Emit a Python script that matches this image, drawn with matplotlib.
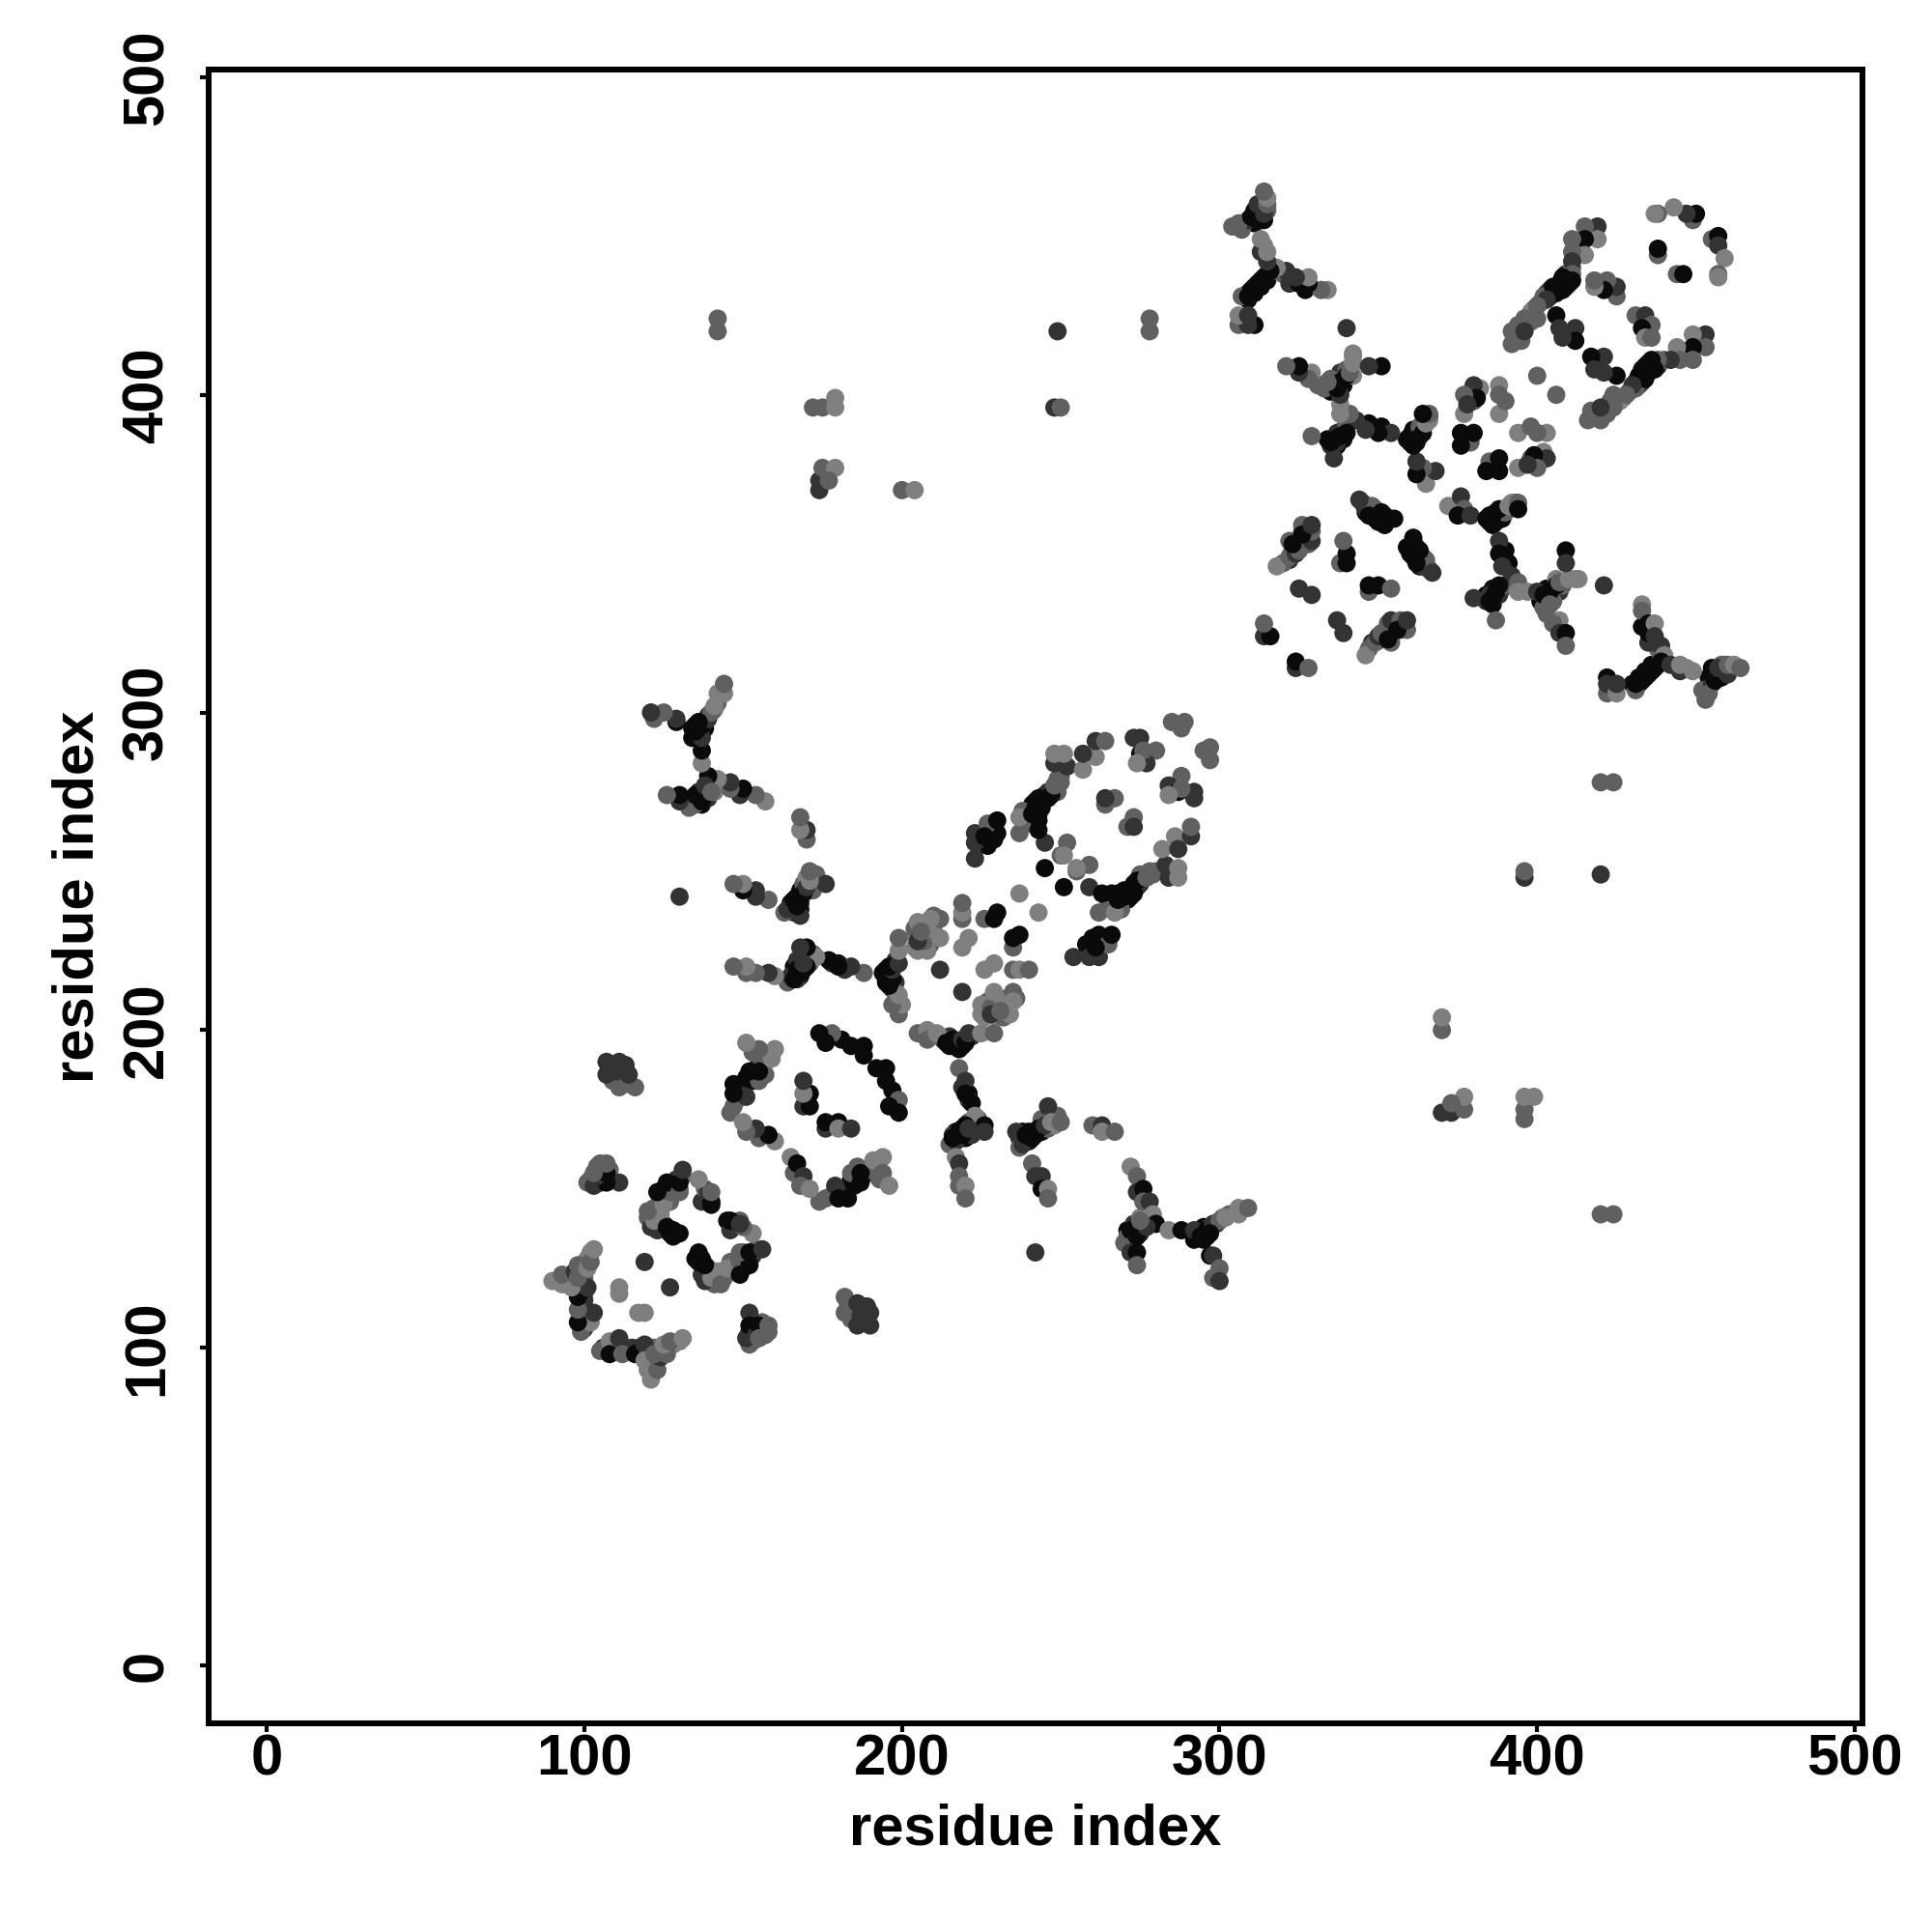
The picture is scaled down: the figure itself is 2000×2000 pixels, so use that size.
# Mapa de contactos entre residuos (gris = probabilidad del contacto).
import matplotlib
matplotlib.use('Agg')
import matplotlib.pyplot as plt

plt.rcParams['font.family'] = ['Liberation Sans', 'DejaVu Sans']
plt.rcParams['font.weight'] = 'bold'

# Contactos (i, j, nivel) con i > j; el mapa es simetrico.
# nivel: 0 claro, 1 medio, 2 oscuro, 3 negro
bloque_bajo = [
    (105, 99, 1), (108, 102, 0), (111, 103, 2), (108, 98, 3), (112, 98, 1), (116, 98, 3),
    (119, 101, 2), (119, 96, 0), (121, 90, 0), (123, 93, 1), (124, 97, 2), (122, 98, 1),
    (126, 98, 1), (125, 101, 0), (127, 102, 1), (131, 103, 0), (127, 119, 2), (119, 111, 0),
    (117, 111, 0),
]
anillo_1 = [
    (138, 121, 2), (140, 122, 0), (136, 130, 3), (136, 127, 3), (138, 126, 3), (143, 120, 1),
    (145, 125, 0), (149, 127, 1), (149, 123, 3), (152, 126, 3), (149, 130, 1), (152, 130, 3),
    (156, 131, 2), (145, 140, 3), (149, 140, 1), (153, 136, 0), (137, 146, 2), (140, 146, 3),
    (138, 150, 1), (139, 149, 2),
]
lado_1 = [
    (152, 101, 1), (151, 103, 2), (152, 111, 2), (152, 107, 3), (154, 104, 2), (155, 107, 3),
    (155, 103, 1), (158, 107, 1), (158, 105, 1), (182, 116, 1), (182, 111, 1), (186, 114, 2),
    (189, 113, 2), (186, 107, 2), (187, 110, 2), (190, 107, 2),
]
hebra_1 = [
    (165, 160, 0), (166, 155, 1), (167, 158, 3), (169, 154, 2), (168, 151, 1), (171, 150, 0),
    (176, 147, 1), (179, 151, 2), (180, 147, 3), (183, 147, 3), (184, 155, 1), (187, 155, 3),
    (187, 152, 3), (191, 159, 0), (194, 160, 0), (194, 155, 1), (196, 151, 0), (176, 169, 2),
    (176, 171, 3), (180, 171, 3), (180, 169, 0), (184, 169, 2), (192, 188, 3), (195, 188, 3),
    (195, 184, 3), (197, 181, 3), (199, 178, 1), (196, 176, 3), (199, 174, 3),
]
banda_198 = [
    (205, 199, 1), (208, 200, 0), (208, 197, 1), (211, 199, 0), (214, 196, 3), (216, 197, 3),
    (217, 195, 3), (219, 197, 2), (220, 196, 3), (221, 199, 2), (225, 199, 0), (229, 199, 1),
]
grupo_claro = [
    (225, 208, 0), (225, 205, 0), (228, 207, 1), (228, 205, 2), (229, 212, 0), (232, 209, 0),
    (234, 205, 0), (235, 212, 1), (235, 209, 0), (231, 206, 1), (219, 212, 2), (226, 219, 0),
    (229, 221, 0), (235, 219, 1), (237, 219, 0), (240, 219, 1), (235, 226, 1), (235, 229, 3),
    (237, 230, 3),
]
hebra_2 = [
    (218, 188, 1), (220, 184, 2), (220, 180, 3), (222, 177, 3), (223, 173, 0), (226, 170, 3),
    (226, 168, 2), (215, 164, 1), (217, 165, 2), (220, 170, 3), (218, 168, 3), (216, 166, 3),
    (219, 167, 3), (221, 169, 2), (217, 160, 0), (218, 158, 2), (218, 154, 1), (218, 151, 1),
    (220, 151, 0), (220, 147, 1),
]
hebra_3 = [
    (236, 168, 2), (238, 164, 2), (239, 167, 3), (241, 166, 3), (243, 169, 3), (245, 170, 2),
    (246, 176, 2), (247, 171, 0), (250, 171, 1), (241, 158, 1), (242, 154, 2), (244, 154, 2),
    (244, 150, 3), (246, 150, 0), (246, 147, 1), (242, 130, 2), (260, 170, 1), (263, 170, 2),
    (263, 168, 0), (267, 168, 1),
]
hebra_4 = [
    (272, 157, 0), (274, 154, 1), (274, 149, 2), (276, 150, 3), (276, 146, 1), (278, 146, 2),
    (279, 142, 0), (280, 139, 3), (284, 137, 0), (288, 137, 3), (292, 137, 2), (271, 135, 1),
    (274, 135, 3), (272, 137, 3), (274, 138, 3), (277, 138, 2), (275, 140, 1), (272, 130, 2),
    (274, 130, 3), (274, 126, 1), (294, 135, 3), (296, 137, 3), (298, 139, 2), (300, 140, 1),
    (297, 136, 3), (302, 141, 0), (306, 142, 0), (306, 144, 0), (309, 144, 1), (297, 129, 3),
    (298, 129, 2), (300, 125, 1), (298, 122, 1), (300, 121, 2),
]
hebra_5 = [
    (254, 223, 2), (258, 227, 3), (259, 223, 2), (262, 223, 2), (262, 230, 3), (265, 227, 1),
    (266, 230, 3), (261, 226, 3), (262, 237, 1), (259, 245, 2), (263, 243, 3), (266, 243, 3),
    (266, 238, 1), (267, 237, 0), (268, 241, 3), (270, 242, 3), (272, 244, 3), (274, 247, 3),
    (273, 243, 3), (277, 248, 1), (279, 249, 1), (283, 252, 2), (284, 248, 2), (287, 251, 0),
    (287, 248, 0), (282, 257, 0), (286, 261, 0), (287, 257, 2), (291, 261, 2), (291, 264, 1),
    (251, 245, 3), (259, 252, 1), (255, 250, 1), (255, 251, 0), (243, 237, 0),
]
punta_300 = [
    (295, 288, 1), (297, 289, 1), (297, 285, 1), (288, 280, 1), (284, 277, 2), (292, 275, 2),
    (292, 273, 2), (287, 275, 3), (288, 276, 1), (284, 274, 0), (273, 267, 1), (271, 264, 1),
    (273, 264, 2),
]
centro_2 = [
    (365, 348, 1), (367, 344, 2), (361, 355, 3), (363, 351, 3), (362, 347, 3), (360, 350, 3),
    (347, 338, 1), (347, 340, 3), (350, 340, 3), (354, 339, 1), (346, 318, 0), (349, 322, 1),
    (350, 324, 2), (354, 322, 1), (351, 325, 1), (354, 329, 2), (357, 329, 1), (359, 326, 1),
    (356, 326, 3), (353, 323, 3), (359, 329, 2), (337, 329, 2), (339, 325, 2), (324, 314, 2),
    (324, 316, 3), (328, 314, 1),
]
cruce_2 = [
    (372, 365, 0), (376, 368, 2), (377, 364, 1), (375, 362, 3), (379, 362, 2), (384, 361, 3),
    (386, 362, 3), (388, 364, 3), (386, 359, 3), (391, 365, 0), (392, 366, 0), (394, 366, 1),
    (394, 364, 3), (388, 354, 2), (388, 350, 3), (391, 347, 3), (389, 346, 2), (392, 343, 2),
    (380, 336, 2), (385, 337, 2), (385, 335, 3), (387, 338, 3), (388, 340, 3), (386, 336, 3),
    (387, 329, 1), (394, 341, 1), (394, 338, 0), (397, 338, 0), (400, 338, 2), (402, 337, 3),
    (404, 338, 3), (406, 340, 3), (407, 341, 1), (410, 342, 0), (413, 342, 0), (404, 334, 1),
    (403, 331, 1), (407, 329, 0), (405, 328, 1), (409, 351, 3), (409, 347, 2), (407, 325, 2),
    (409, 325, 3), (409, 321, 1), (421, 340, 2),
]
hebra_6 = [
    (433, 334, 0), (433, 332, 1), (435, 328, 3), (437, 328, 0), (437, 324, 2), (439, 321, 2),
    (440, 318, 0), (431, 307, 1), (437, 314, 3), (435, 312, 3), (433, 310, 3), (431, 309, 3),
    (439, 316, 3), (442, 315, 2), (445, 313, 2), (445, 315, 0), (449, 313, 0), (422, 306, 1),
    (422, 311, 3), (422, 309, 2), (425, 306, 0), (425, 309, 2), (454, 306, 1), (453, 304, 1),
    (456, 310, 3), (455, 312, 3), (458, 311, 3), (457, 314, 2), (460, 312, 2), (460, 315, 1),
    (462, 315, 0), (464, 314, 1),
]
punta_460 = [
    (444, 438, 1), (446, 438, 3), (455, 449, 1), (457, 450, 3), (457, 447, 2), (459, 443, 0),
    (457, 438, 1), (457, 437, 0), (453, 419, 2), (449, 419, 0), (453, 415, 1), (449, 415, 3),
    (444, 415, 0), (449, 411, 1), (445, 411, 1), (442, 411, 2), (438, 411, 1), (436, 411, 3),
    (437, 408, 3), (434, 409, 3), (434, 405, 3), (432, 406, 3), (430, 403, 2), (428, 400, 1),
    (424, 396, 1), (424, 400, 1), (425, 406, 3), (421, 412, 2), (417, 412, 3), (418, 408, 2),
    (421, 407, 2), (417, 395, 1), (416, 392, 1), (420, 392, 1), (420, 396, 2),
    (431, 425, 1), (434, 425, 2), (436, 422, 1), (433, 421, 3), (434, 418, 0), (436, 418, 1),
]
centro_400 = [
    (406, 400, 1), (403, 388, 0), (394, 388, 0), (398, 390, 1), (400, 388, 1), (398, 380, 1),
    (402, 382, 0), (403, 380, 2), (399, 381, 3), (400, 377, 1), (394, 377, 0), (397, 378, 2),
    (385, 379, 1), (388, 380, 3), (384, 376, 3), (388, 376, 3),
]
lejanos = [
    (424, 142, 1), (420, 142, 1), (420, 249, 2), (424, 278, 1), (420, 278, 1), (396, 248, 2),
    (396, 250, 1), (396, 172, 1), (396, 175, 1), (399, 179, 0), (396, 179, 0), (370, 174, 2),
    (373, 174, 2), (377, 175, 1), (377, 179, 0), (373, 177, 1), (370, 200, 1), (370, 204, 0),
]

# Contactos de las zonas densas, quedan debajo de los anteriores.
densos_dominio_1 = [
    (113, 100, 1), (106, 100, 2), (114, 99, 1), (117, 100, 1), (120, 98, 1), (122, 95, 0),
    (122, 100, 1), (124, 99, 0), (126, 100, 0), (128, 101, 0), (130, 102, 0), (120, 93, 0),
    (121, 96, 1), (123, 96, 0), (110, 99, 3), (115, 100, 2), (118, 99, 3),
    (150, 125, 3), (151, 128, 3), (147, 124, 2), (144, 122, 1), (141, 120, 1), (150, 130, 1),
    (153, 129, 2), (154, 131, 1), (135, 128, 3), (137, 128, 3), (137, 123, 2), (139, 125, 1),
    (142, 124, 0), (146, 127, 1), (153, 108, 2), (154, 106, 3), (152, 105, 3), (156, 106, 2),
    (157, 105, 1), (156, 108, 1), (153, 102, 1), (157, 104, 1), (184, 113, 2), (188, 108, 3),
    (188, 112, 2), (190, 111, 2), (184, 109, 1), (183, 114, 1), (181, 148, 3), (182, 150, 2),
    (184, 153, 3), (185, 151, 3), (186, 153, 3), (178, 148, 1), (174, 146, 1), (190, 155, 2),
    (189, 156, 1), (186, 157, 1), (192, 157, 1), (193, 153, 1), (213, 197, 3), (215, 195, 3),
    (216, 195, 3), (218, 196, 3), (218, 194, 3), (219, 195, 3), (215, 198, 2), (212, 198, 1),
    (222, 198, 2), (227, 209, 1), (229, 206, 2), (230, 210, 0), (233, 207, 0), (233, 210, 1),
    (236, 210, 1), (226, 204, 0), (230, 204, 0), (232, 204, 1), (217, 168, 3), (218, 166, 3),
    (219, 169, 3), (220, 166, 3), (221, 168, 3), (222, 167, 2), (216, 167, 2), (223, 170, 2),
    (221, 171, 1), (224, 172, 1), (221, 180, 3), (221, 178, 2), (219, 182, 2), (237, 166, 2),
    (240, 168, 3), (240, 165, 3), (242, 167, 3), (238, 168, 3), (244, 168, 3), (244, 172, 1),
    (246, 169, 1), (249, 172, 1), (248, 170, 0), (249, 173, 1), (237, 163, 1), (270, 133, 1),
    (273, 136, 3), (271, 137, 3), (275, 136, 2), (273, 139, 2), (276, 139, 1), (275, 141, 0),
    (293, 136, 3), (295, 134, 3), (295, 138, 3), (297, 138, 2), (299, 139, 2), (301, 141, 0),
    (303, 142, 1), (296, 135, 3), (292, 134, 3), (268, 243, 3), (269, 240, 3), (271, 241, 3),
    (270, 244, 3), (272, 242, 3), (274, 245, 3), (273, 246, 3), (275, 246, 2), (276, 248, 2),
    (275, 249, 1), (278, 250, 1), (280, 250, 1), (267, 240, 1), (269, 238, 1), (265, 240, 1),
    (262, 227, 3), (264, 228, 3), (260, 229, 3), (259, 226, 3),
]
densos_dominio_2 = [
    (353, 328, 1), (352, 325, 2), (351, 323, 3), (348, 322, 2), (355, 326, 2), (356, 328, 2),
    (357, 326, 1), (347, 320, 1), (359, 352, 3), (361, 349, 3), (362, 352, 3), (364, 349, 1),
    (366, 345, 2), (363, 346, 3), (364, 346, 2), (385, 362, 3), (387, 360, 3), (385, 360, 3),
    (389, 361, 3), (387, 363, 3), (389, 363, 2), (390, 363, 1), (392, 365, 1), (393, 366, 2),
    (390, 351, 3), (389, 349, 3), (387, 337, 3), (384, 337, 3), (386, 339, 3), (389, 339, 2),
    (384, 335, 2), (386, 334, 3), (388, 337, 2), (390, 340, 1), (403, 336, 3), (405, 336, 3),
    (401, 335, 3), (403, 339, 3), (405, 339, 3), (407, 338, 2), (408, 340, 1), (405, 335, 1),
    (402, 333, 1), (406, 342, 0), (412, 342, 0), (432, 311, 3), (434, 313, 3), (436, 315, 3),
    (430, 309, 3), (432, 309, 3), (434, 311, 3), (436, 313, 3), (438, 315, 3), (440, 317, 2),
    (439, 318, 1), (438, 320, 1), (435, 322, 2), (435, 325, 3), (433, 327, 3), (457, 312, 3),
    (456, 312, 3), (454, 311, 3), (455, 314, 3), (461, 314, 1), (459, 315, 0), (458, 315, 1),
    (452, 307, 1), (455, 309, 2), (447, 314, 0), (436, 409, 3), (435, 407, 3), (433, 408, 3),
    (435, 410, 3), (437, 410, 3), (438, 409, 2), (433, 404, 2), (431, 404, 3), (432, 403, 2),
    (431, 402, 1), (429, 401, 1), (427, 399, 1), (426, 398, 0), (440, 411, 1), (423, 398, 1),
    (422, 394, 1),
]

marcas = [0, 100, 200, 300, 400, 500]
grises = ['#7f7f7f', '#606060', '#333333', '#0a0a0a']

grupos = [densos_dominio_1, densos_dominio_2, bloque_bajo, anillo_1, lado_1, hebra_1, banda_198,
          grupo_claro, hebra_2, hebra_3, hebra_4, hebra_5, punta_300, centro_2, cruce_2, hebra_6,
          punta_460, centro_400, lejanos]

fig = plt.figure(figsize=(20, 20), dpi=100)
ax = fig.add_axes([0.108, 0.108, 0.856, 0.856])

# Cada contacto se dibuja en los dos lados de la diagonal.
for grupo in grupos:
    i = [c[0] for c in grupo]
    j = [c[1] for c in grupo]
    colores = [grises[c[2]] for c in grupo]
    ax.scatter(i, j, s=185, c=colores, linewidths=0)
    ax.scatter(j, i, s=185, c=colores, linewidths=0)

ax.set_xlim(-18.25, 502.4)
ax.set_ylim(-18.25, 502.4)
ax.set_xticks(marcas)
ax.set_yticks(marcas)
ax.tick_params(axis='both', length=6.5, width=3, labelsize=43)
ax.tick_params(axis='x', pad=1)
ax.tick_params(axis='y', pad=19, labelrotation=90)
for etiqueta in ax.get_yticklabels():
    etiqueta.set_verticalalignment('center')
for lado in ax.spines.values():
    lado.set_linewidth(4.3)

ax.set_xlabel('residue index', fontsize=43, fontweight='bold', labelpad=12)
ax.set_ylabel('residue index', fontsize=43, fontweight='bold', labelpad=12)

fig.savefig('out.png', dpi=100)
